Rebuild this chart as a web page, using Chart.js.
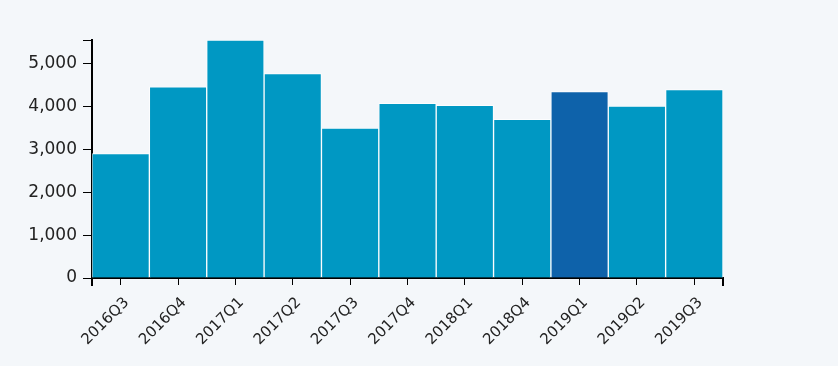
<!DOCTYPE html>
<html>
<head>
<meta charset="utf-8">
<script src="https://cdn.jsdelivr.net/npm/chart.js@4.4.1/dist/chart.umd.min.js"></script>
<style>
html,body{margin:0;padding:0;background:#f4f7fa;}
#wrap{width:838px;height:366px;position:relative;}
</style>
</head>
<body>
<div id="wrap"><canvas id="c" width="838" height="366"></canvas></div>
<script>
const categories = ["2016Q3","2016Q4","2017Q1","2017Q2","2017Q3","2017Q4","2018Q1","2018Q4","2019Q1","2019Q2","2019Q3"];
const values = [2900, 4452, 5546, 4766, 3491, 4070, 4023, 3695, 4344, 4007, 4391];
const highlightCategory = "2019Q1";
const yTickValues = [0, 1000, 2000, 3000, 4000, 5000];

const baseColor = "#0098c3";
const highlightColor = "#0e62aa";
const colors = categories.map(c => c === highlightCategory ? highlightColor : baseColor);
const yMax = Math.max(...values);

const outerTicks = {
  id: 'outerTicks',
  afterDraw(chart) {
    const ctx = chart.ctx;
    const x = chart.scales.x;
    ctx.save();
    ctx.strokeStyle = '#000';
    ctx.lineWidth = 2;
    ctx.beginPath();
    ctx.moveTo(x.left, x.top); ctx.lineTo(x.left, x.top + 8);
    ctx.moveTo(x.right, x.top); ctx.lineTo(x.right, x.top + 8);
    ctx.stroke();
    ctx.restore();
  }
};

new Chart(document.getElementById('c'), {
  type: 'bar',
  data: {
    labels: categories,
    datasets: [{
      data: values,
      backgroundColor: colors,
      borderColor: 'rgba(255,255,255,0.75)',
      borderWidth: 1,
      categoryPercentage: 1,
      barPercentage: 1
    }]
  },
  options: {
    responsive: false,
    animation: false,
    devicePixelRatio: 1,
    layout: { padding: { top: 40, right: 115, left: 0, bottom: 0 } },
    plugins: { legend: { display: false }, tooltip: { enabled: false } },
    scales: {
      x: {
        offset: true,
        grid: { display: true, drawOnChartArea: false, drawTicks: true, tickLength: 7, color: '#000', lineWidth: 1, offset: false },
        border: { display: true, color: '#000', width: 2 },
        ticks: {
          color: '#222',
          font: { family: 'DejaVu Sans', size: 15 },
          maxRotation: 45, minRotation: 45,
          padding: 9,
          labelOffset: 6,
          autoSkip: false
        },
        afterFit(s) { s.height = 88; }
      },
      y: {
        min: 0,
        max: yMax,
        grid: { display: true, drawOnChartArea: false, drawTicks: true, tickLength: 9, color: '#000', lineWidth: 1 },
        border: { display: true, color: '#000', width: 2 },
        afterBuildTicks(s) {
          s.ticks = yTickValues.map(v => ({ value: v })).concat([{ value: yMax }]);
        },
        ticks: {
          color: '#222',
          font: { family: 'DejaVu Sans', size: 17 },
          padding: 6,
          callback: v => yTickValues.includes(v) ? v.toLocaleString('en-US') : ''
        },
        afterFit(s) { s.width = 92; }
      }
    }
  },
  plugins: [outerTicks]
});
</script>
</body>
</html>
